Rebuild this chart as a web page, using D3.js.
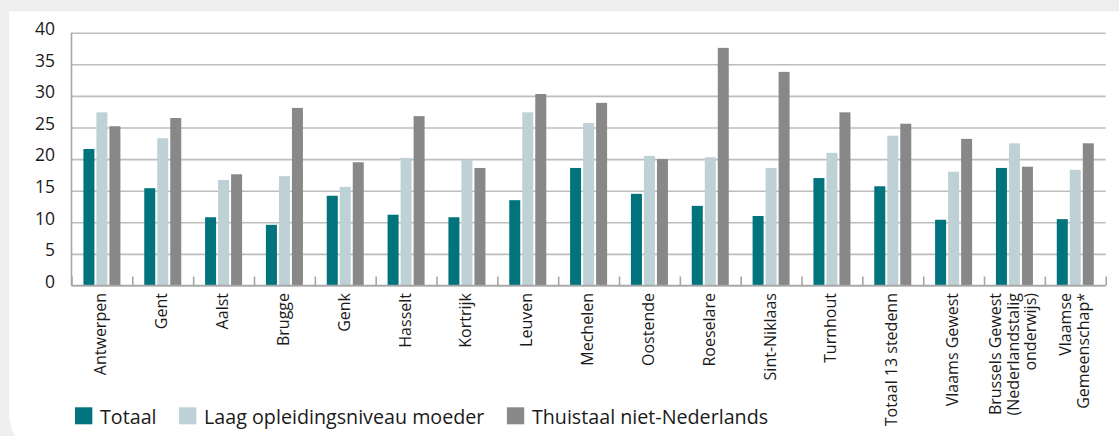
<!DOCTYPE html>
<html>
<head>
<meta charset="utf-8">
<script src="https://cdn.jsdelivr.net/npm/d3@7/dist/d3.min.js"></script>
<style>
  html, body { margin: 0; padding: 0; background: #eeeeee; }
  svg { display: block; }
  text { font-family: "Open Sans", "Noto Sans", sans-serif; fill: #1a1a1a; }
</style>
</head>
<body>
<svg id="chart" width="1119" height="436"></svg>
<script>
// ---- data ----
const categories = [
  "Antwerpen", "Gent", "Aalst", "Brugge", "Genk", "Hasselt", "Kortrijk", "Leuven",
  "Mechelen", "Oostende", "Roeselare", "Sint-Niklaas", "Turnhout", "Totaal 13 stedenn",
  "Vlaams Gewest", "Brussels Gewest\n(Nederlandstalig\nonderwijs)", "Vlaamse\nGemeenschap*"
];
const seriesNames = ["Totaal", "Laag opleidingsniveau moeder", "Thuistaal niet-Nederlands"];
const totaal = [21.6, 15.4, 10.8, 9.6, 14.2, 11.2, 10.8, 13.5, 18.6, 14.5, 12.6, 11.0, 17.0, 15.7, 10.4, 18.6, 10.5];
const laagOpleiding = [27.4, 23.3, 16.7, 17.3, 15.6, 20.2, 19.9, 27.4, 25.7, 20.5, 20.3, 18.6, 21.0, 23.7, 18.0, 22.5, 18.3];
const thuistaal = [25.2, 26.5, 17.6, 28.1, 19.5, 26.8, 18.6, 30.3, 28.9, 20.0, 37.6, 33.8, 27.4, 25.6, 23.2, 18.8, 22.5];
const yTicks = [0, 5, 10, 15, 20, 25, 30, 35, 40];
const colors = ["#00737c", "#bed1d6", "#888888"];

const seriesValues = [totaal, laagOpleiding, thuistaal];

// ---- layout ----
const svg = d3.select("#chart");
const W = 1119, H = 436;
const mL = 71.5, mR = 1105.7, mT = 32.7, mB = 285.5;

// panel background with rounded bottom-left corner
const px = 9, py = 11.5, pr = 47, pb = 460;
svg.append("path")
  .attr("d", `M${px},${py} H${W + 5} V${pb} H${px + pr} A${pr},${pr} 0 0 1 ${px},${pb - pr} Z`)
  .attr("fill", "#ffffff");

const x0 = d3.scaleBand().domain(categories).range([mL, mR]).padding(0);
const bw = x0.bandwidth();
const groupW = 37;
const x1 = d3.scaleBand().domain(seriesNames)
  .range([(bw - groupW) / 2, (bw + groupW) / 2]).paddingInner(2 / 13);
const y = d3.scaleLinear().domain([0, 40]).range([mB, mT]);

// y axis with gridlines
const yAxis = d3.axisLeft(y).tickValues(yTicks).tickSize(-(mR - mL)).tickPadding(16);
const gy = svg.append("g").attr("transform", `translate(${mL},0)`).call(yAxis);
gy.select(".domain").remove();
gy.selectAll(".tick line").attr("stroke", "#bdbdbd").attr("stroke-width", 1.6);
gy.selectAll(".tick text")
  .attr("font-size", "17.5px")
  .attr("x", 55 - mL)
  .attr("dy", null)
  .attr("y", 1.7)
  .attr("text-anchor", "end");

// bars
const groups = svg.append("g").selectAll("g")
  .data(categories)
  .join("g")
  .attr("transform", d => `translate(${x0(d)},0)`);
groups.selectAll("rect")
  .data((d, i) => seriesNames.map((s, j) => ({ s, j, v: seriesValues[j][i] })))
  .join("rect")
  .attr("x", d => x1(d.s))
  .attr("width", x1.bandwidth())
  .attr("y", d => y(d.v))
  .attr("height", d => y(0) - y(d.v))
  .attr("fill", d => colors[d.j]);

// axis lines
svg.append("line").attr("x1", mL).attr("x2", mL).attr("y1", mT).attr("y2", mB)
  .attr("stroke", "#a6a6a6").attr("stroke-width", 1.6);
svg.append("line").attr("x1", mL).attr("x2", mR).attr("y1", mB).attr("y2", mB)
  .attr("stroke", "#a6a6a6").attr("stroke-width", 1.6);

// x axis: boundary tick marks (upward) via a linear index scale
const xb = d3.scaleLinear().domain([0, categories.length]).range([mL, mR]);
const xTickAxis = d3.axisBottom(xb).tickValues(d3.range(categories.length + 1))
  .tickSize(-9).tickFormat("");
const gxt = svg.append("g").attr("transform", `translate(0,${mB})`).call(xTickAxis);
gxt.select(".domain").remove();
gxt.selectAll(".tick line").attr("stroke", "#a6a6a6").attr("stroke-width", 1.6);

// x axis labels (rotated, multi-line)
const xAxis = d3.axisBottom(x0).tickSize(0).tickFormat("");
const gx = svg.append("g").attr("transform", `translate(0,${mB})`).call(xAxis);
gx.select(".domain").remove();
const lineGap = 17.5;
gx.selectAll(".tick").each(function (d) {
  const lines = d.split("\n");
  const n = lines.length;
  const t = d3.select(this).append("text")
    .attr("transform", "rotate(-90)")
    .attr("text-anchor", "end")
    .attr("font-size", "16px")
    .attr("fill", "#1a1a1a");
  lines.forEach((ln, i) => {
    t.append("tspan")
      .attr("x", -7.5)
      .attr("y", 4.5 + (i - (n - 1) / 2) * lineGap)
      .text(ln);
  });
});

// legend
const legend = svg.append("g").attr("transform", "translate(75,407.3)");
let lx = 0;
seriesNames.forEach((s, i) => {
  const g = legend.append("g").attr("transform", `translate(${lx},0)`);
  g.append("rect").attr("width", 17.3).attr("height", 17).attr("fill", colors[i]);
  const t = g.append("text").attr("x", 25).attr("y", 17).attr("font-size", "19.7px").text(s);
  lx += 25 + t.node().getComputedTextLength() + 22.5;
});
</script>
</body>
</html>
